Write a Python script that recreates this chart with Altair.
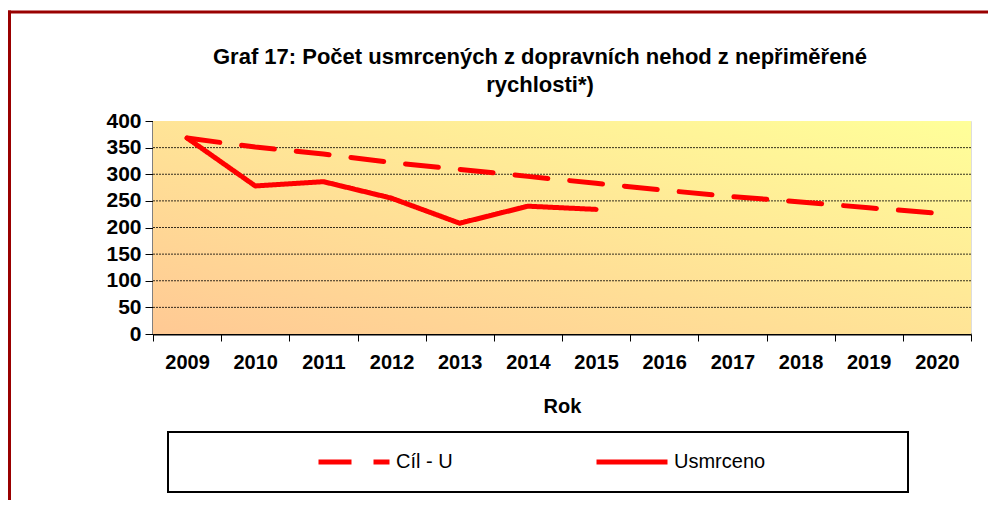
import altair as alt
import pandas as pd

years = [str(y) for y in range(2009, 2021)]
cil_u = [368, 351, 338, 322, 309, 296, 283, 270, 258, 248, 237, 227]
usmrceno = [368, 278, 286, 255, 208, 240, 234]
series_names = ["Cíl - U", "Usmrceno"]
y_ticks = [0, 50, 100, 150, 200, 250, 300, 350, 400]
grid_values = [50, 100, 150, 200, 250, 300, 350]
title_lines = ["Graf 17: Počet usmrcených z dopravních nehod z nepřiměřené", "rychlosti*)"]

rows = []
for yr, v in zip(years, cil_u):
    rows.append({"rok": yr, "hodnota": v, "serie": series_names[0]})
for yr, v in zip(years, usmrceno):
    rows.append({"rok": yr, "hodnota": v, "serie": series_names[1]})
df = pd.DataFrame(rows)
grid_df = pd.DataFrame({"hodnota": grid_values})
title_df = pd.DataFrame({"t": ["\n".join(title_lines)]})

W, H = 818, 213
FONT = "Liberation Sans"
deco = pd.DataFrame({"k": [0]})

yscale = alt.Scale(domain=[0, 400], nice=False)
y_axis = alt.Axis(title=None, values=y_ticks, labelFontSize=21, labelFontWeight="bold",
                  labelFont=FONT, labelColor="black", tickSize=8, tickColor="black",
                  labelPadding=4, domainColor="black", domainWidth=2, grid=False,
                  labelOverlap=False)

gradient = alt.LinearGradient(
    gradient="linear",
    stops=[alt.GradientStop(color="#FFC994", offset=0),
           alt.GradientStop(color="#FFFF99", offset=1)],
    x1=0, y1=1, x2=1, y2=0,
)

bg = alt.Chart(deco).mark_rect(color=gradient).encode(
    x=alt.value(0), x2=alt.value(W), y=alt.value(0), y2=alt.value(H)
)

grid = alt.Chart(grid_df).mark_rule(color="#000000", strokeDash=[2, 1], strokeWidth=1, opacity=0.8).encode(
    y=alt.Y("hodnota:Q", scale=yscale, axis=y_axis)
)

legend = alt.Legend(
    orient="none", legendX=163, legendY=303, direction="horizontal", title=None,
    symbolType="stroke", symbolSize=5041, symbolStrokeWidth=5,
    labelFontSize=20, labelFont=FONT, labelColor="black",
    columnPadding=133, labelOffset=4,
)

lines = alt.Chart(df).mark_line(strokeWidth=5, strokeCap="round", strokeJoin="round").encode(
    x=alt.X("rok:O", sort=years,
            scale=alt.Scale(type="band", domain=years, paddingInner=0, paddingOuter=0),
            axis=alt.Axis(title="Rok", labelAngle=0, tickBand="extent", grid=False,
                          labelFontSize=20, labelFontWeight="bold", labelFont=FONT,
                          labelColor="black", tickSize=7, tickColor="black", tickWidth=1,
                          labelPadding=11, domainColor="black", domainWidth=2,
                          titleFontSize=20, titleFontWeight="bold", titleFont=FONT,
                          titleColor="black", titlePadding=24)),
    y=alt.Y("hodnota:Q", scale=yscale, axis=y_axis),
    color=alt.Color("serie:N", scale=alt.Scale(domain=series_names, range=["#FF0000", "#FF0000"]),
                    legend=legend),
    strokeDash=alt.StrokeDash("serie:N", scale=alt.Scale(domain=series_names, range=[[33, 22], [1, 0]]),
                              legend=legend),
    order="rok:O",
)

title_text = alt.Chart(title_df).mark_text(
    font=FONT, fontSize=22, fontWeight="bold", color="black", align="center",
    baseline="alphabetic", lineBreak="\n", lineHeight=28,
).encode(text="t:N", x=alt.value(W / 2 - 22), y=alt.value(-57))

legend_box = alt.Chart(deco).mark_rect(fill="white", fillOpacity=0, stroke="black", strokeWidth=2).encode(
    x=alt.value(15), x2=alt.value(755), y=alt.value(311), y2=alt.value(371)
)

border_top = alt.Chart(deco).mark_rule(color="#990000", strokeWidth=3).encode(
    x=alt.value(-145), x2=alt.value(840), y=alt.value(-109)
)
border_left = alt.Chart(deco).mark_rule(color="#990000", strokeWidth=3).encode(
    x=alt.value(-143.5), y=alt.value(-110.5), y2=alt.value(385)
)

chart = alt.layer(bg, grid, lines, title_text, legend_box, border_top, border_left).properties(
    width=W, height=H,
    autosize=alt.AutoSizeParams(type="none"),
    padding={"left": 145, "top": 113, "right": 17, "bottom": 166},
).configure_view(stroke="black", strokeWidth=2).configure(background="white")

chart.save("out.html", embed_options={"renderer": "svg", "actions": False})
